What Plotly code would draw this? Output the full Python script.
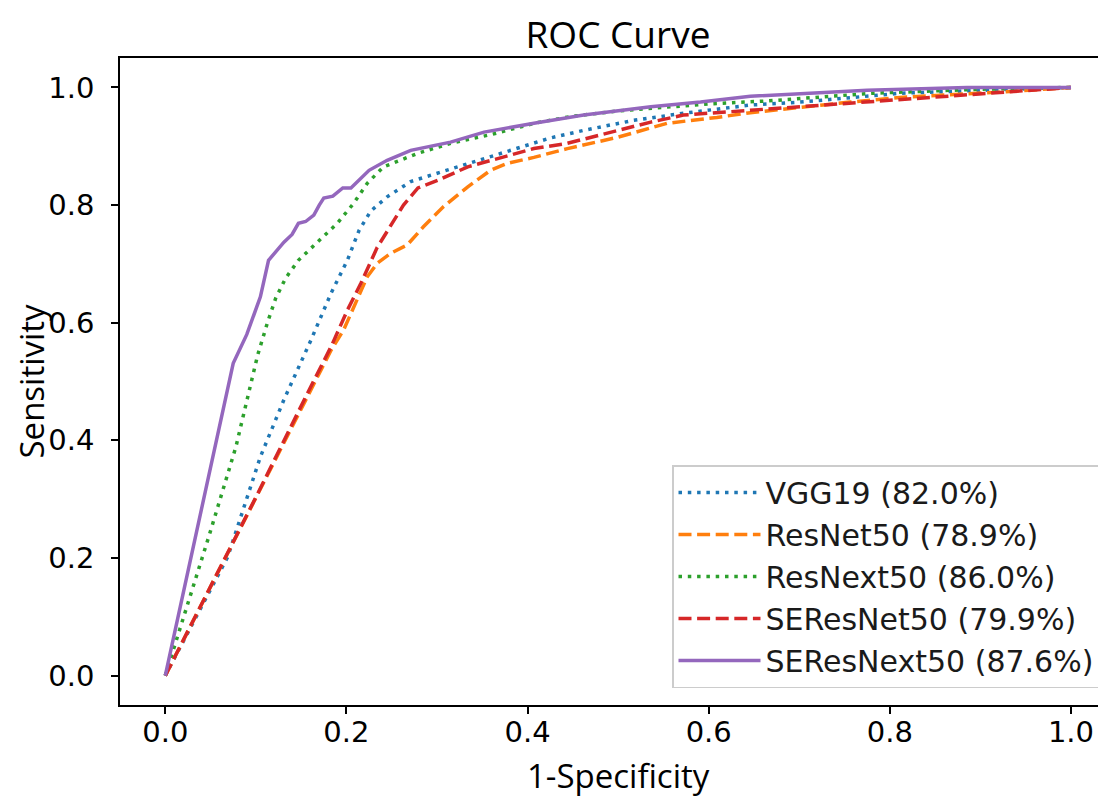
import plotly.graph_objects as go

# ---- data ----
names = ["VGG19 (82.0%)", "ResNet50 (78.9%)", "ResNext50 (86.0%)",
         "SEResNet50 (79.9%)", "SEResNext50 (87.6%)"]

vgg_x = [0, 0.069, 0.105, 0.131, 0.161, 0.183, 0.201, 0.214, 0.227, 0.245, 0.271, 0.296,
         0.334, 0.389, 0.425, 0.462, 0.517, 0.572, 0.646, 0.701, 0.811, 0.9, 1.0]
vgg_y = [0, 0.202, 0.372, 0.469, 0.571, 0.650, 0.706, 0.757, 0.790, 0.814, 0.840, 0.852,
         0.871, 0.898, 0.914, 0.927, 0.944, 0.956, 0.970, 0.975, 0.990, 0.995, 1.0]

resnet_x = [0, 0.099, 0.161, 0.183, 0.197, 0.212, 0.223, 0.234, 0.249, 0.267, 0.285, 0.307,
            0.334, 0.359, 0.378, 0.407, 0.444, 0.499, 0.554, 0.609, 0.646, 0.756, 0.811, 0.922, 1.0]
resnet_y = [0, 0.300, 0.486, 0.553, 0.588, 0.638, 0.678, 0.701, 0.718, 0.732, 0.763, 0.797,
            0.831, 0.859, 0.871, 0.881, 0.896, 0.915, 0.939, 0.949, 0.957, 0.975, 0.983, 0.992, 1.0]

resnext_x = [0, 0.048, 0.078, 0.102, 0.113, 0.122, 0.133, 0.147, 0.168, 0.190, 0.208, 0.223,
             0.241, 0.279, 0.315, 0.360, 0.410, 0.450, 0.500, 0.550, 0.600, 0.665, 0.780, 0.900, 1.0]
resnext_y = [0, 0.236, 0.389, 0.545, 0.601, 0.642, 0.676, 0.706, 0.737, 0.769, 0.803, 0.837,
             0.865, 0.888, 0.905, 0.920, 0.940, 0.951, 0.960, 0.966, 0.972, 0.977, 0.990, 0.997, 1.0]

seresnet_x = [0, 0.099, 0.157, 0.183, 0.201, 0.216, 0.234, 0.249, 0.263, 0.279, 0.301, 0.334,
              0.370, 0.407, 0.444, 0.480, 0.536, 0.572, 0.646, 0.775, 0.885, 1.0]
seresnet_y = [0, 0.300, 0.480, 0.559, 0.621, 0.667, 0.728, 0.765, 0.800, 0.829, 0.842, 0.865,
              0.881, 0.896, 0.905, 0.919, 0.941, 0.953, 0.961, 0.975, 0.987, 1.0]

seresnext_x = [0, 0.075, 0.090, 0.105, 0.114, 0.122, 0.131, 0.140, 0.147, 0.155, 0.164, 0.170,
               0.175, 0.185, 0.196, 0.205, 0.215, 0.225, 0.245, 0.263, 0.271, 0.315, 0.352,
               0.407, 0.462, 0.536, 0.591, 0.646, 0.775, 0.885, 1.0]
seresnext_y = [0, 0.531, 0.580, 0.644, 0.706, 0.720, 0.737, 0.750, 0.769, 0.772, 0.783, 0.800,
               0.812, 0.815, 0.829, 0.829, 0.845, 0.859, 0.876, 0.888, 0.893, 0.907, 0.924,
               0.939, 0.953, 0.967, 0.975, 0.985, 0.995, 1.0, 1.0]

x_ticks = [0.0, 0.2, 0.4, 0.6, 0.8, 1.0]
y_ticks = [0.0, 0.2, 0.4, 0.6, 0.8, 1.0]

title_text = "ROC Curve"
x_title = "1-Specificity"
y_title = "Sensitivity"

series = [
    (vgg_x, vgg_y, "#1f77b4", "3.5px,5.8px"),
    (resnet_x, resnet_y, "#ff7f0e", "13px,5.6px"),
    (resnext_x, resnext_y, "#2ca02c", "3.5px,5.8px"),
    (seresnet_x, seresnet_y, "#d62728", "13px,5.6px"),
    (seresnext_x, seresnext_y, "#9467bd", "solid"),
]

fig = go.Figure()
for (xs, ys, col, dash), nm in zip(series, names):
    fig.add_trace(go.Scatter(x=xs, y=ys, mode="lines", name=nm,
                             line=dict(color=col, width=3.5, dash=dash)))

TICKFONT = dict(family="DejaVu Sans", size=29, color="#000000")
LABELFONT = dict(family="Open Sans", size=33, color="#000000")

# page is offset by the 8px body margin, so figure coords = page coords - 8
OFF = 8
L, T = 120 - OFF, 58 - OFF
BOT = 705 - OFF
B = 796 - BOT
PW, PH = 1106 - L, BOT - T

fig.update_layout(
    width=1106, height=796,
    margin=dict(l=L, r=0, t=T, b=B, autoexpand=False),
    paper_bgcolor="white", plot_bgcolor="white",
    title=dict(text=title_text, x=(618 - OFF - L) / PW, xref="paper", xanchor="center",
               y=1 - (35 - OFF) / 796, yref="container", yanchor="middle",
               font=dict(family="Open Sans", size=37, color="#000000")),
    showlegend=True,
    legend=dict(x=(1100 - OFF - L) / PW, y=(705 - 688) / PH, xanchor="right", yanchor="bottom",
                bgcolor="white", bordercolor="#cccccc", borderwidth=1.5,
                font=dict(family="DejaVu Sans", size=30, color="#1a1a1a"),
                tracegroupgap=0, itemwidth=82),
    annotations=[
        dict(text=x_title, xref="paper", yref="paper",
             x=(618 - OFF - L) / PW, y=-(775 - 705) / PH, xanchor="center", yanchor="middle",
             showarrow=False, font=LABELFONT),
        dict(text=y_title, xref="paper", yref="paper", textangle=-90,
             x=(31 - OFF - L) / PW, y=0.5, xanchor="center", yanchor="middle",
             showarrow=False, font=LABELFONT),
    ],
)

fig.update_xaxes(range=[-0.05, 1.0475], tickvals=x_ticks,
                 ticktext=[f"{v:.1f}" for v in x_ticks],
                 showgrid=False, zeroline=False, automargin=False,
                 showline=True, linecolor="#000000", linewidth=1.6, mirror=True,
                 ticks="outside", ticklen=7, tickwidth=1.6, tickcolor="#000000",
                 tickfont=TICKFONT, ticklabelstandoff=-7)
fig.update_yaxes(range=[-0.05, 1.05], tickvals=y_ticks,
                 ticktext=[f"{v:.1f}" for v in y_ticks],
                 showgrid=False, zeroline=False, automargin=False,
                 showline=True, linecolor="#000000", linewidth=1.6, mirror=False,
                 ticks="outside", ticklen=7, tickwidth=1.6, tickcolor="#000000",
                 tickfont=TICKFONT, ticklabelstandoff=11)

fig.write_html("out.html")
